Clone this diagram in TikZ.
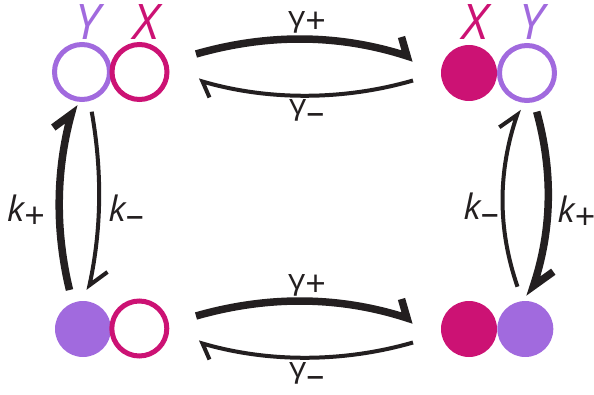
\documentclass[tikz,border=0pt]{standalone}
\usepackage{fontspec}
\setmainfont{Open Sans}
\definecolor{ink}{HTML}{231F20}
\definecolor{vio}{HTML}{A16ADE}
\definecolor{mag}{HTML}{CC1274}
\newcommand{\plussub}[1]{\raisebox{#1}{\fontsize{36}{36}\selectfont +}}
\newcommand{\minussub}[1]{\raisebox{#1}{\fontsize{36}{36}\selectfont –}}
\newcommand{\gam}{\scalebox{1.2}[1]{γ}}
\begin{document}
\begin{tikzpicture}[x=1pt,y=-1pt,
  opencirc/.style={circle, draw=#1, line width=5pt, minimum size=55pt, inner sep=0pt},
  fullcirc/.style={circle, fill=#1, minimum size=56pt, inner sep=0pt},
  letter/.style={font=\fontsize{49}{49}\selectfont\itshape, inner sep=0pt, anchor=base},
  glab/.style={font=\fontsize{28}{28}\selectfont, inner sep=0pt, anchor=base west, text=ink},
  klab/.style={font=\fontsize{35}{35}\selectfont, inner sep=0pt, anchor=base west, text=ink},
  thickarr/.style={draw=ink, line width=7.5pt, line join=miter, line cap=butt},
  thinarr/.style={draw=ink, line width=4pt, line join=miter, line cap=butt}
]
\useasboundingbox (0,0) rectangle (594,395);
% states
\node[opencirc=vio] (tlY) at (82,72) {};
\node[opencirc=mag] (tlX) at (139.5,72) {};
\node[fullcirc=mag] (trX) at (469,73) {};
\node[opencirc=vio] (trY) at (527,73) {};
\node[fullcirc=vio] (blY) at (83,329) {};
\node[opencirc=mag] (blX) at (139.3,328.5) {};
\node[fullcirc=mag] (brX) at (469,329) {};
\node[fullcirc=vio] (brY) at (525.3,329) {};
% letters
\node[letter, text=vio] (tlYl) at (88,40) {Y};
\node[letter, text=mag] (tlXl) at (146,40) {X};
\node[letter, text=mag] (trXl) at (475,40) {X};
\node[letter, text=vio] (trYl) at (532,40) {Y};
% arrow end points
\coordinate (gpS) at (196,54);   \coordinate (gpJ) at (407,56);   \coordinate (gpB) at (401.5,37);
\coordinate (gmS) at (413,80.5); \coordinate (gmJ) at (202.5,81.5); \coordinate (gmB) at (209.5,97.5);
\coordinate (gpS2) at (196,316);   \coordinate (gpJ2) at (407,318);   \coordinate (gpB2) at (401.5,299);
\coordinate (gmS2) at (413,342.5); \coordinate (gmJ2) at (202.5,343.5); \coordinate (gmB2) at (209.5,359.5);
\coordinate (kpS) at (69.5,290);  \coordinate (kpJ) at (71.2,114.4); \coordinate (kpB) at (53.3,127.5);
\coordinate (kmS) at (91.7,111.7); \coordinate (kmJ) at (89.5,285.2); \coordinate (kmB) at (107.5,272);
\coordinate (rkmS) at (517.5,286.7); \coordinate (rkmJ) at (517.1,114.9); \coordinate (rkmB) at (499.3,127.3);
\coordinate (rkpS) at (536.7,111.7); \coordinate (rkpJ) at (533.4,286); \coordinate (rkpB) at (553.3,271.7);
% horizontal arrows
\draw[thickarr] (gpS) .. controls (267,33.7) and (338,33.7) .. (gpJ) -- (gpB);
\draw[thinarr] (gmS) .. controls (343,100.7) and (268,100.7) .. (gmJ) -- (gmB);
\draw[thickarr] (gpS2) .. controls (267,295.7) and (338,295.7) .. (gpJ2) -- (gpB2);
\draw[thinarr] (gmS2) .. controls (343,362.7) and (268,362.7) .. (gmJ2) -- (gmB2);
% vertical arrows
\draw[thickarr] (kpS) .. controls (55.5,232) and (55.5,172) .. (kpJ) -- (kpB);
\draw[thinarr] (kmS) .. controls (102,169.5) and (102,227.5) .. (kmJ) -- (kmB);
\draw[thinarr] (rkmS) .. controls (497.6,229) and (497.6,172) .. (rkmJ) -- (rkmB);
\draw[thickarr] (rkpS) .. controls (552.7,169.8) and (552.7,227.9) .. (rkpJ) -- (rkpB);
% labels
\node[glab] (gp1) at (288,27) {\gam\plussub{-7pt}};
\node[glab] (gm1) at (289,115) {\gam\minussub{-10pt}};
\node[glab] (gp2) at (288,289) {\gam\plussub{-7pt}};
\node[glab] (gm2) at (289,377) {\gam\minussub{-10pt}};
\node[klab] (kp1) at (7,221.7) {{\itshape k}\plussub{-7pt}};
\node[klab] (km1) at (108.5,221.7) {{\itshape k}\minussub{-6pt}};
\node[klab] (km2) at (463.5,220) {{\itshape k}\minussub{-6pt}};
\node[klab] (kp2) at (557.5,223) {{\itshape k}\plussub{-7pt}};
\end{tikzpicture}
\end{document}
